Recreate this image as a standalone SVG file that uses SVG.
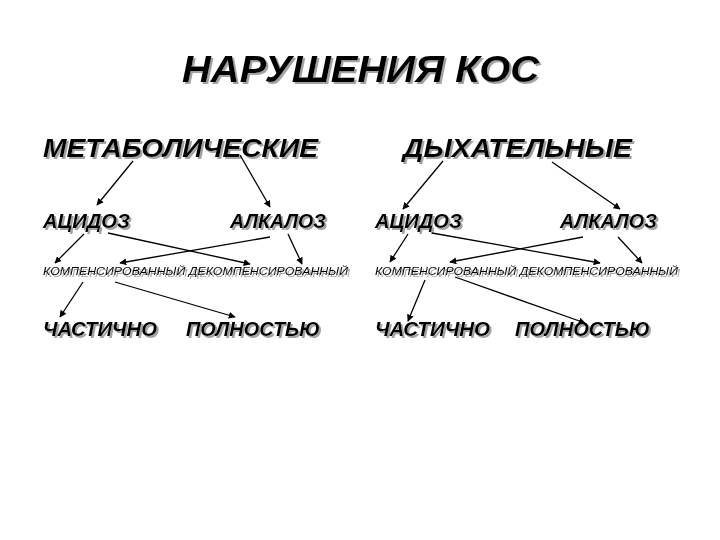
<svg xmlns="http://www.w3.org/2000/svg" width="720" height="540" viewBox="0 0 720 540">
<defs>
<marker id="ah" viewBox="0 0 10 10" refX="9" refY="5" markerWidth="7" markerHeight="7" orient="auto" markerUnits="userSpaceOnUse"><path d="M0,0 L10,5 L0,10 z" fill="#000"/></marker>
<filter id="sh" x="-5%" y="-20%" width="110%" height="140%"><feDropShadow dx="2" dy="2" stdDeviation="0.6" flood-color="#999" flood-opacity="0.9"/></filter>
</defs>
<style>
text{font-family:"Liberation Sans",Arial,sans-serif;font-weight:bold;font-style:italic;fill:#000;filter:url(#sh)}
.t{font-size:36px}.h{font-size:26px}.m{font-size:20px}.s{font-size:11px;font-weight:normal}
line{stroke:#000;stroke-width:1.3;marker-end:url(#ah)}
</style>
<rect width="720" height="540" fill="#fff"/>
<g id="title"><text class="t" x="182" y="82" textLength="357" lengthAdjust="spacingAndGlyphs">НАРУШЕНИЯ КОС</text></g>
<g id="metab"><text class="h" x="43" y="157" textLength="275" lengthAdjust="spacingAndGlyphs">МЕТАБОЛИЧЕСКИЕ</text></g>
<g id="resp"><text class="h" x="403" y="157" textLength="229" lengthAdjust="spacingAndGlyphs">ДЫХАТЕЛЬНЫЕ</text></g>
<g id="l-acid"><text class="m" x="43" y="228" textLength="87" lengthAdjust="spacingAndGlyphs">АЦИДОЗ</text></g>
<g id="l-alk"><text class="m" x="230" y="228" textLength="96" lengthAdjust="spacingAndGlyphs">АЛКАЛОЗ</text></g>
<g id="r-acid"><text class="m" x="375" y="228" textLength="87" lengthAdjust="spacingAndGlyphs">АЦИДОЗ</text></g>
<g id="r-alk"><text class="m" x="560" y="228" textLength="97" lengthAdjust="spacingAndGlyphs">АЛКАЛОЗ</text></g>
<g id="l-comp"><text class="s" x="43" y="275" textLength="305" lengthAdjust="spacingAndGlyphs">КОМПЕНСИРОВАННЫЙ ДЕКОМПЕНСИРОВАННЫЙ</text></g>
<g id="r-comp"><text class="s" x="375" y="275" textLength="303" lengthAdjust="spacingAndGlyphs">КОМПЕНСИРОВАННЫЙ ДЕКОМПЕНСИРОВАННЫЙ</text></g>
<g id="l-part"><text class="m" x="43" y="336" textLength="114" lengthAdjust="spacingAndGlyphs">ЧАСТИЧНО</text></g>
<g id="l-full"><text class="m" x="186" y="336" textLength="134" lengthAdjust="spacingAndGlyphs">ПОЛНОСТЬЮ</text></g>
<g id="r-part"><text class="m" x="375" y="336" textLength="115" lengthAdjust="spacingAndGlyphs">ЧАСТИЧНО</text></g>
<g id="r-full"><text class="m" x="515" y="336" textLength="135" lengthAdjust="spacingAndGlyphs">ПОЛНОСТЬЮ</text></g>
<g id="connectors">
<line x1="133" y1="161" x2="97" y2="205"/>
<line x1="240" y1="155" x2="270" y2="207"/>
<line x1="84" y1="234" x2="55" y2="263"/>
<line x1="108" y1="233" x2="250" y2="264"/>
<line x1="270" y1="237" x2="120" y2="263"/>
<line x1="288" y1="234" x2="302" y2="264"/>
<line x1="83" y1="282" x2="60" y2="317"/>
<line x1="115" y1="282" x2="235" y2="317"/>
<line x1="443" y1="161" x2="403" y2="209"/>
<line x1="552" y1="162" x2="620" y2="209"/>
<line x1="408" y1="234" x2="390" y2="262"/>
<line x1="432" y1="233" x2="600" y2="263"/>
<line x1="583" y1="237" x2="450" y2="262"/>
<line x1="618" y1="237" x2="642" y2="263"/>
<line x1="425" y1="280" x2="408" y2="321"/>
<line x1="455" y1="277" x2="585" y2="323"/>
</g>
</svg>
